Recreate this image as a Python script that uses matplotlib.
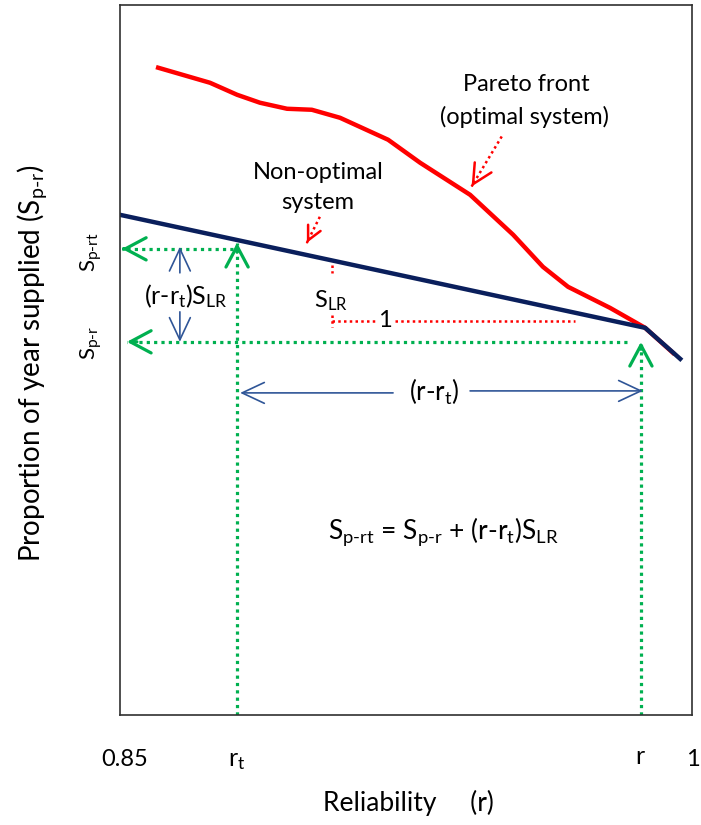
import matplotlib.pyplot as plt

plt.rcParams['font.family'] = ['Lato', 'DejaVu Sans']
plt.rcParams['mathtext.fontset'] = 'custom'
plt.rcParams['mathtext.rm'] = 'Lato'
plt.rcParams['mathtext.it'] = 'Lato'

# Pareto front (optimal system)
pareto_r = [0.8600, 0.8736, 0.8807, 0.8867, 0.8938, 0.9003, 0.9077, 0.9203,
            0.9287, 0.9418, 0.9531, 0.9609, 0.9675, 0.9785, 0.9877, 0.9950]
pareto_s = [0.9113, 0.8901, 0.8732, 0.8620, 0.8535, 0.8521, 0.8408, 0.8099,
            0.7775, 0.7324, 0.6761, 0.6310, 0.6028, 0.5732, 0.5451, 0.5099]

# non-optimal system
nonopt_r = [0.85, 0.9877, 0.9969]
nonopt_s = [0.7042, 0.5451, 0.5014]

r_t = 0.8807
r = 0.9866
s_prt = 0.6563
s_pr = 0.5254

green = '#00b050'
red = '#ff0000'
navy = '#0a1f5c'
blue = '#2f5597'

fig = plt.figure(figsize=(7.01, 8.25), dpi=100)
ax = fig.add_axes([0.1712, 0.1333, 0.816, 0.861])
ax.set_xlim(0.85, 1.0)
ax.set_ylim(0, 1)
ax.set_xticks([])
ax.set_yticks([])
for s in ax.spines.values():
    s.set_color('#303030')
    s.set_linewidth(1.2)


def head(tip, frm, color, lw, hl, hw):
    ax.annotate('', xy=tip, xytext=frm,
                arrowprops=dict(arrowstyle=f'->,head_length={hl},head_width={hw}',
                                color=color, lw=lw, shrinkA=0, shrinkB=0,
                                mutation_scale=1))


def dotted_arrow(start, tip, color, lw, hl, hw):
    ax.plot([start[0], tip[0]], [start[1], tip[1]], color=color, lw=lw,
            linestyle=(0, (1, 1.3)))
    near = (tip[0] + (start[0] - tip[0]) * 0.02, tip[1] + (start[1] - tip[1]) * 0.02)
    head(tip, near, color, lw, hl, hw)


# curves
ax.plot(pareto_r, pareto_s, color=red, lw=3.2, solid_joinstyle='round')
ax.plot(nonopt_r, nonopt_s, color=navy, lw=3.2, solid_joinstyle='round')

# green dotted guides
dotted_arrow((r_t, 0), (r_t, 0.6648), green, 2.3, 15, 8)
dotted_arrow((r, 0), (r, s_pr), green, 2.3, 15, 8)
dotted_arrow((0.8796, s_prt), (0.8505, s_prt), green, 2.3, 15, 8)
dotted_arrow((0.9830, s_pr), (0.8518, s_pr), green, 2.3, 15, 8)

# slope triangle (red dotted)
ax.plot([0.9056, 0.9056], [0.6338, 0.6225], color=red, lw=1.8, linestyle=(0, (1, 1.3)))
ax.plot([0.9056, 0.9056], [0.5634, 0.5465], color=red, lw=1.8, linestyle=(0, (1, 1.3)))
ax.plot([0.9056, 0.9169], [0.5549, 0.5549], color=red, lw=1.8, linestyle=(0, (1, 1.3)))
ax.plot([0.9221, 0.9693], [0.5549, 0.5549], color=red, lw=1.8, linestyle=(0, (1, 1.3)))

# label arrows (red dotted)
dotted_arrow((0.9024, 0.7014), (0.8990, 0.6648), red, 1.8, 10, 5)
dotted_arrow((0.9501, 0.8145), (0.9422, 0.7441), red, 1.8, 14, 7)

# blue dimension arrows
head((0.8657, 0.6592), (0.8657, 0.6225), blue, 1.2, 16, 7.5)
head((0.8657, 0.5254), (0.8657, 0.5676), blue, 1.2, 16, 7.5)
head((0.8815, 0.4535), (0.9216, 0.4535), blue, 1.2, 16, 7.5)
head((0.9871, 0.4563), (0.9418, 0.4563), blue, 1.2, 16, 7.5)

# texts
ax.text(0.9565, 0.8873, 'Pareto front', ha='center', va='center', fontsize=17)
ax.text(0.9562, 0.8423, '(optimal system)', ha='center', va='center', fontsize=17)
ax.text(0.9019, 0.7634, 'Non-optimal', ha='center', va='center', fontsize=17)
ax.text(0.9019, 0.7211, 'system', ha='center', va='center', fontsize=17)
ax.text(0.8672, 0.590, r'(r-r$_{\text{t}}$)S$_{\text{LR}}$', ha='center', va='center', fontsize=18)
ax.text(0.9054, 0.583, r'S$_{\text{LR}}$', ha='center', va='center', fontsize=17)
ax.text(0.9195, 0.5549, '1', ha='center', va='center', fontsize=17)
ax.text(0.9325, 0.4545, r'(r-r$_{\text{t}}$)', ha='center', va='center', fontsize=18.5)
ax.text(0.9347, 0.258, r'S$_{\text{p-rt}}$ = S$_{\text{p-r}}$ + (r-r$_{\text{t}}$)S$_{\text{LR}}$',
        ha='center', va='center', fontsize=19)

# outside labels
fig.text(125 / 701, 1 - 760 / 825, '0.85', ha='center', va='center', fontsize=17)
fig.text(237 / 701, 1 - 760 / 825, r'r$_{\text{t}}$', ha='center', va='center', fontsize=18)
fig.text(640 / 701, 1 - 756 / 825, 'r', ha='center', va='center', fontsize=18)
fig.text(693 / 701, 1 - 760 / 825, '1', ha='center', va='center', fontsize=17)
fig.text(408 / 701, 1 - 803 / 825, 'Reliability     (r)', ha='center', va='center', fontsize=19)
fig.text(91 / 701, 1 - 252 / 825, r'S$_{\text{p-rt}}$', ha='center', va='center',
         rotation=90, fontsize=16)
fig.text(91 / 701, 1 - 343 / 825, r'S$_{\text{p-r}}$', ha='center', va='center',
         rotation=90, fontsize=16)
fig.text(32 / 701, 1 - 363 / 825, r'Proportion of year supplied (S$_{\text{p-r}}$)',
         ha='center', va='center', rotation=90, fontsize=20)

fig.savefig('out.png', dpi=100)
